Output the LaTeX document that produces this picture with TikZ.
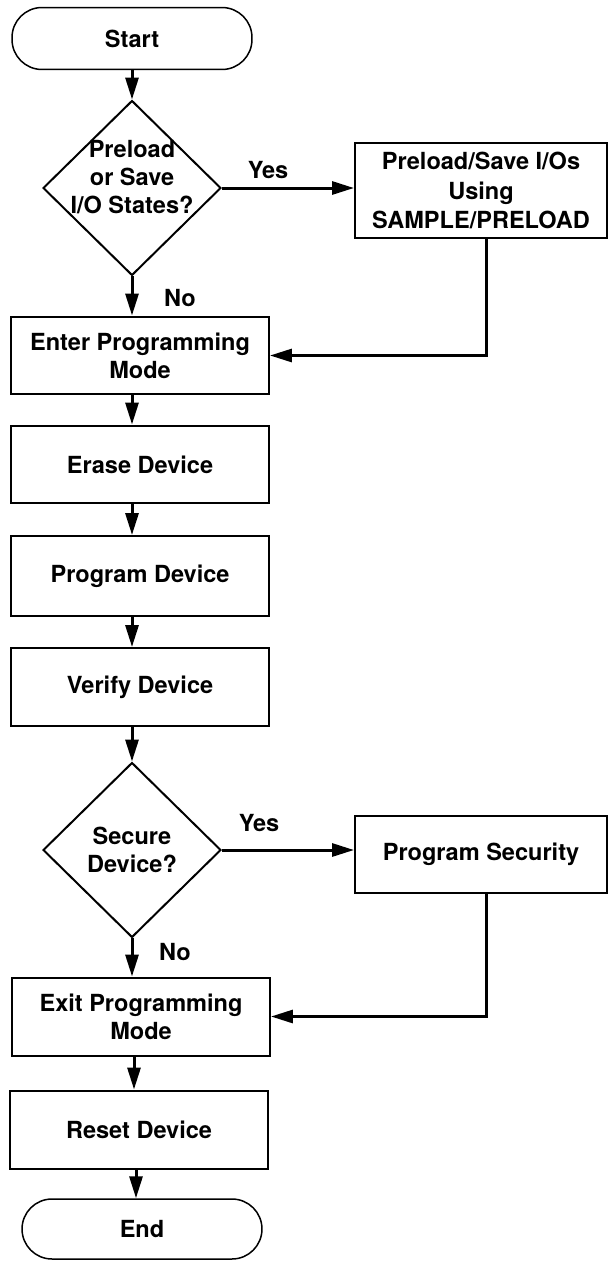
\documentclass[tikz,border=0pt]{standalone}
\usepackage{fontspec}
\setmainfont{TeX Gyre Heros}
\usetikzlibrary{shapes.geometric,arrows.meta}
\tikzset{
	term/.style={draw, line width=0.3mm, rounded corners=0.6cm, minimum width=4.8cm, minimum height=1.24cm, inner sep=0},
	box/.style={draw, line width=0.4mm, minimum width=5.16cm, minimum height=1.56cm, align=center, inner sep=0},
	sidebox/.style={box, minimum width=5.04cm},
	decision/.style={draw, diamond, line width=0.4mm, minimum width=3.56cm, minimum height=3.5cm, inner sep=0},
	lbl/.style={align=center},
	flow/.style={line width=0.6mm, -{Triangle[length=4.4mm, width=2.6mm]}},
	plain/.style={line width=0.6mm}
}

\begin{document}
\begin{tikzpicture}[x=0.02cm, y=-0.02cm, font=\fontsize{13.4}{16}\selectfont\bfseries]
			%%%%% START %%%%%
			\useasboundingbox (0, 0) rectangle (608, 1261);
			\coordinate (col) at (132, 0);
			
			\node[term] (start) at (132, 38.5) {Start};
			\node[decision, label={[lbl, yshift=0.22cm]center:Preload\\or Save\\I/O States?}] (preload) at (132, 188) {};
			\node[sidebox, minimum height=1.9cm, font=\fontsize{13.4}{17}\selectfont\bfseries] (saveios) at (481, 190.5) {Preload/Save I/Os\\Using\\SAMPLE/PRELOAD};
			
			\node[box] (enter) at (140, 355.5) {Enter Programming\\Mode};
			\node[box] (erase) at (140, 464.5) {Erase Device};
			\node[box, minimum height=1.6cm] (progdev) at (140, 576) {Program Device};
			\node[box] (verify) at (140, 687) {Verify Device};
			
			\node[decision, label={[lbl]center:Secure\\Device?}] (secure) at (132, 850) {};
			\node[sidebox, minimum height=1.54cm] (progsec) at (481, 854.5) {Program Security};
			
			\node[box] (exitmode) at (141, 1016.5) {Exit Programming\\Mode};
			\node[box] (reset) at (139, 1129.5) {Reset Device};
			\node[term, minimum height=1.2cm] (end) at (142, 1229) {End};
			
			\node (yes1) at (268, 170) {Yes};
			\node (no1) at (180, 298) {No};
			\node (yes2) at (259, 823) {Yes};
			\node (no2) at (175, 952) {No};
			
			\draw[flow] (start) -- (preload);
			\draw[flow] (preload.east) -- (saveios.west |- preload.east);
			\draw[flow] ([xshift=0.1cm]saveios.south) |- (enter.east);
			\draw[flow] (preload.south) -- (enter.north -| col);
			\draw[flow] (enter.south -| col) -- (erase.north -| col);
			\draw[flow] (erase.south -| col) -- (progdev.north -| col);
			\draw[flow] (progdev.south -| col) -- (verify.north -| col);
			\draw[flow] (verify.south -| col) -- (secure.north);
			
			\draw[flow] (secure.east) -- (progsec.west |- secure.east);
			\draw[flow] ([xshift=0.1cm]progsec.south) |- (exitmode.east);
			\draw[flow] (secure.south) -- (exitmode.north -| col);
			\draw[flow] ([xshift=0.04cm]exitmode.south -| col) -- ([xshift=0.04cm]reset.north -| col);
			\draw[flow] ([xshift=0.08cm]reset.south -| col) -- ([xshift=0.08cm]end.north -| col);
			%%%%% END %%%%%
\end{tikzpicture}
\end{document}
